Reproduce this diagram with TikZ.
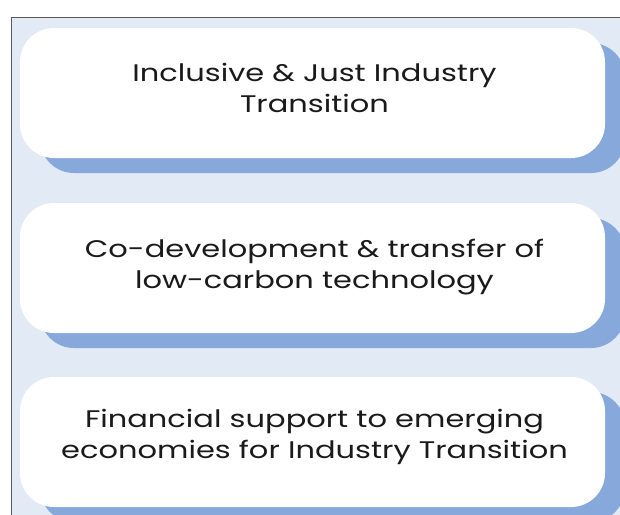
\documentclass[tikz,border=0pt]{standalone}
\usepackage{fontspec}
\usepackage{graphicx}
\setmainfont{Poppins}
\definecolor{bgblue}{HTML}{E2EAF6}
\definecolor{shblue}{HTML}{86A8DA}
\definecolor{txt}{HTML}{1A1A1A}
\definecolor{frame}{HTML}{5A5A5A}
\newcommand{\cardtext}[2]{\scalebox{1.27}[1]{\begin{tabular}{@{}c@{}}#1\\#2\end{tabular}}}
\begin{document}
\begin{tikzpicture}[x=1pt,y=-1pt,
  card/.style={fill=white, rounded corners=34pt, minimum width=585pt, minimum height=130pt,
    inner sep=0pt},
  shade/.style={fill=shblue, rounded corners=34pt, minimum width=585pt, minimum height=130pt, inner sep=0pt},
  lbl/.style={inner sep=0pt, text=txt, font=\fontsize{24}{31}\selectfont}]
\useasboundingbox (0,0) rectangle (620,514);
\clip (0,0) rectangle (620,514);
\fill[bgblue] (11.5,17.5) rectangle (630,530);
\draw[frame, line width=1.2pt] (11.5,530) -- (11.5,17.5) -- (630,17.5);
\foreach \i/\y in {1/93, 2/268, 3/442} {
  \node[shade] (s\i) at (332.5,\y+15) {};
}
\node[card] (b1) at (312.5,93) {};
\node[card] (b2) at (312.5,268) {};
\node[card] (b3) at (312.5,442) {};
\node[lbl] (t1) at ([shift={(2,-2)}]b1.center) {\cardtext{Inclusive \& Just Industry}{Transition}};
\node[lbl] (t2) at ([shift={(2,-1)}]b2.center) {\cardtext{Co-development \& transfer of}{low-carbon technology}};
\node[lbl] (t3) at ([shift={(2,-5)}]b3.center) {\cardtext{Financial support to emerging}{economies for Industry Transition}};
\end{tikzpicture}
\end{document}
